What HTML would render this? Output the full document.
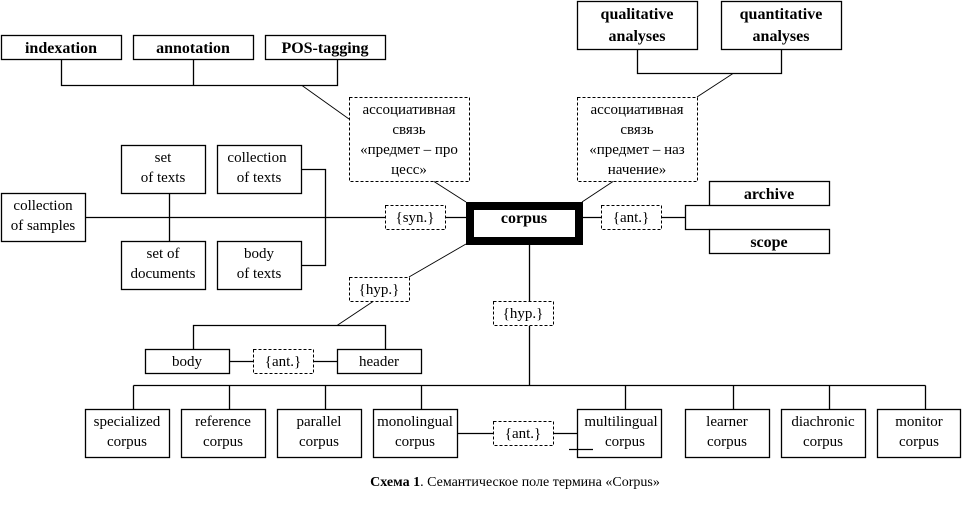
<!DOCTYPE html>
<html><head><meta charset="utf-8"><style>
html,body{margin:0;padding:0;background:#fff;}
svg{display:block;}
text{font-family:"Liberation Serif","Noto Serif CJK SC",serif;fill:#000;text-anchor:middle;}
.b{font-weight:bold;font-size:16px;}
.r{font-size:15px;}
</style></head><body>
<svg width="962" height="506" viewBox="0 0 962 506" xmlns="http://www.w3.org/2000/svg">
<g fill="#fff" stroke="#000" stroke-width="1.3">
<rect x="1.5" y="35.5" width="120" height="24"/>
<rect x="133.5" y="35.5" width="120" height="24"/>
<rect x="265.5" y="35.5" width="120" height="24"/>
<rect x="577.5" y="1.5" width="120" height="48"/>
<rect x="721.5" y="1.5" width="120" height="48"/>
<rect x="1.5" y="193.5" width="84" height="48"/>
<rect x="121.5" y="145.5" width="84" height="48"/>
<rect x="121.5" y="241.5" width="84" height="48"/>
<rect x="217.5" y="145.5" width="84" height="48"/>
<rect x="217.5" y="241.5" width="84" height="48"/>
<rect x="709.5" y="181.5" width="120" height="24"/>
<rect x="709.5" y="229.5" width="120" height="24"/>
<rect x="145.5" y="349.5" width="84" height="24"/>
<rect x="337.5" y="349.5" width="84" height="24"/>
<rect x="85.5" y="409.5" width="84" height="48"/>
<rect x="181.5" y="409.5" width="84" height="48"/>
<rect x="277.5" y="409.5" width="84" height="48"/>
<rect x="373.5" y="409.5" width="84" height="48"/>
<rect x="577.5" y="409.5" width="84" height="48"/>
<rect x="685.5" y="409.5" width="84" height="48"/>
<rect x="781.5" y="409.5" width="84" height="48"/>
<rect x="877.5" y="409.5" width="83" height="48"/>
</g>
<g fill="#fff" stroke="#000" stroke-width="1" stroke-dasharray="3,2">
<rect x="349.5" y="97.5" width="120" height="84"/>
<rect x="577.5" y="97.5" width="120" height="84"/>
<rect x="385.5" y="205.5" width="60" height="24"/>
<rect x="601.5" y="205.5" width="60" height="24"/>
<rect x="349.5" y="277.5" width="60" height="24"/>
<rect x="253.5" y="349.5" width="60" height="24"/>
<rect x="493.5" y="301.5" width="60" height="24"/>
<rect x="493.5" y="421.5" width="60" height="24"/>
</g>
<rect x="470" y="206" width="109" height="35" fill="#fff" stroke="#000" stroke-width="8"/>
<g fill="none" stroke="#000" stroke-width="1.3">
<polyline points="61.5,60 61.5,85.5 337.5,85.5 337.5,60"/>
<line x1="193.5" y1="60" x2="193.5" y2="85.5"/>
<polyline points="637.5,50 637.5,73.5 781.5,73.5 781.5,50"/>
<line x1="86" y1="217.5" x2="385" y2="217.5"/>
<line x1="446" y1="217.5" x2="466" y2="217.5"/>
<line x1="169.5" y1="194" x2="169.5" y2="241"/>
<polyline points="302,169.5 325.5,169.5 325.5,265.5 302,265.5"/>
<line x1="583" y1="217.5" x2="601" y2="217.5"/>
<line x1="662" y1="217.5" x2="685.5" y2="217.5"/>
<polyline points="709,205.5 685.5,205.5 685.5,229.5 709,229.5"/>
<polyline points="193.5,349 193.5,325.5 385.5,325.5 385.5,349"/>
<line x1="230" y1="361.5" x2="253" y2="361.5"/>
<line x1="314" y1="361.5" x2="337" y2="361.5"/>
<line x1="529.5" y1="245" x2="529.5" y2="301"/>
<line x1="529.5" y1="326" x2="529.5" y2="385.5"/>
<line x1="133.5" y1="385.5" x2="925.5" y2="385.5"/>
<line x1="133.5" y1="385.5" x2="133.5" y2="409"/>
<line x1="229.5" y1="385.5" x2="229.5" y2="409"/>
<line x1="325.5" y1="385.5" x2="325.5" y2="409"/>
<line x1="421.5" y1="385.5" x2="421.5" y2="409"/>
<line x1="625.5" y1="385.5" x2="625.5" y2="409"/>
<line x1="733.5" y1="385.5" x2="733.5" y2="409"/>
<line x1="829.5" y1="385.5" x2="829.5" y2="409"/>
<line x1="925.5" y1="385.5" x2="925.5" y2="409"/>
<line x1="458" y1="433.5" x2="493" y2="433.5"/>
<line x1="554" y1="433.5" x2="577" y2="433.5"/>
<line x1="569" y1="449.5" x2="593" y2="449.5"/>
</g>
<g fill="none" stroke="#000" stroke-width="0.9">
<line x1="302" y1="85.5" x2="349" y2="119"/>
<line x1="434" y1="181.5" x2="466" y2="202"/>
<line x1="733" y1="73.5" x2="697" y2="97"/>
<line x1="613" y1="181.5" x2="582" y2="202"/>
<line x1="409" y1="277" x2="466" y2="244"/>
<line x1="373" y1="301.5" x2="337" y2="325.5"/>
</g>
<text class="b" x="61" y="53">indexation</text>
<text class="b" x="193" y="53">annotation</text>
<text class="b" x="325" y="53">POS-tagging</text>
<text class="b" x="637" y="19">qualitative</text>
<text class="b" x="637" y="41">analyses</text>
<text class="b" x="781" y="19">quantitative</text>
<text class="b" x="781" y="41">analyses</text>
<text class="r" x="409" y="114">ассоциативная</text>
<text class="r" x="409" y="134">связь</text>
<text class="r" x="409" y="154">«предмет – про</text>
<text class="r" x="409" y="174">цесс»</text>
<text class="r" x="637" y="114">ассоциативная</text>
<text class="r" x="637" y="134">связь</text>
<text class="r" x="637" y="154">«предмет – наз</text>
<text class="r" x="637" y="174">начение»</text>
<text class="b" x="524" y="223">corpus</text>
<text class="b" x="769" y="199">archive</text>
<text class="b" x="769" y="247">scope</text>
<text class="r" x="415" y="222">{syn.}</text>
<text class="r" x="631" y="222">{ant.}</text>
<text class="r" x="379" y="294">{hyp.}</text>
<text class="r" x="523" y="318">{hyp.}</text>
<text class="r" x="283" y="366">{ant.}</text>
<text class="r" x="523" y="438">{ant.}</text>
<text class="r" x="43" y="210">collection</text>
<text class="r" x="43" y="230">of samples</text>
<text class="r" x="163" y="162">set</text>
<text class="r" x="163" y="182">of texts</text>
<text class="r" x="163" y="258">set of</text>
<text class="r" x="163" y="278">documents</text>
<text class="r" x="257" y="162">collection</text>
<text class="r" x="259" y="182">of texts</text>
<text class="r" x="259" y="258">body</text>
<text class="r" x="259" y="278">of texts</text>
<text class="r" x="187" y="366">body</text>
<text class="r" x="379" y="366">header</text>
<text class="r" x="127" y="426">specialized</text><text class="r" x="127" y="446">corpus</text>
<text class="r" x="223" y="426">reference</text><text class="r" x="223" y="446">corpus</text>
<text class="r" x="319" y="426">parallel</text><text class="r" x="319" y="446">corpus</text>
<text class="r" x="415" y="426">monolingual</text><text class="r" x="415" y="446">corpus</text>
<text class="r" x="621" y="426">multilingual</text><text class="r" x="625" y="446">corpus</text>
<text class="r" x="727" y="426">learner</text><text class="r" x="727" y="446">corpus</text>
<text class="r" x="823" y="426">diachronic</text><text class="r" x="823" y="446">corpus</text>
<text class="r" x="919" y="426">monitor</text><text class="r" x="919" y="446">corpus</text>
<text x="515" y="486" style="font-size:14px"><tspan font-weight="bold">Схема 1</tspan>. Семантическое поле термина «Corpus»</text>
</svg>
</body></html>
